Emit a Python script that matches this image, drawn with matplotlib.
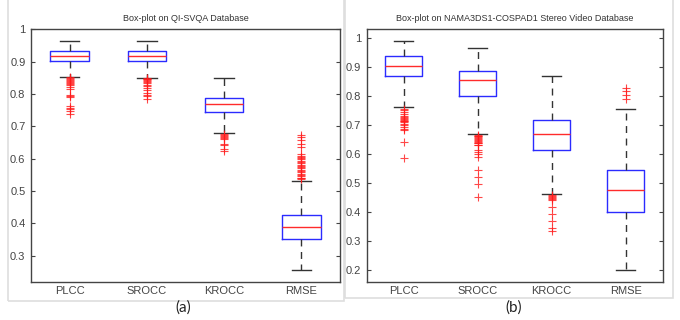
import matplotlib.pyplot as plt
from matplotlib.patches import Rectangle

plt.rcParams['font.family'] = ['Liberation Sans', 'DejaVu Sans']

labels = ['PLCC', 'SROCC', 'KROCC', 'RMSE']

# (a) QI-SVQA: q1, median, q3, lower whisker, upper whisker
a_q1 = [0.901, 0.902, 0.745, 0.353]
a_med = [0.918, 0.918, 0.768, 0.390]
a_q3 = [0.934, 0.934, 0.789, 0.425]
a_lo = [0.854, 0.851, 0.681, 0.255]
a_hi = [0.965, 0.965, 0.848, 0.531]
a_out = [
    [0.852, 0.849, 0.846, 0.843, 0.840, 0.837, 0.834, 0.831, 0.828, 0.822,
     0.817, 0.796, 0.793, 0.791, 0.762, 0.758, 0.753, 0.749, 0.739],
    [0.849, 0.847, 0.845, 0.842, 0.840, 0.837, 0.835, 0.829, 0.824, 0.818,
     0.811, 0.803, 0.797, 0.793, 0.786],
    [0.676, 0.674, 0.671, 0.668, 0.665, 0.662, 0.646, 0.641, 0.630, 0.623],
    [0.536, 0.539, 0.542, 0.546, 0.550, 0.554, 0.558, 0.562, 0.566, 0.570,
     0.574, 0.578, 0.582, 0.586, 0.590, 0.594, 0.598, 0.602, 0.606, 0.610,
     0.615, 0.636, 0.646, 0.659, 0.667, 0.672],
]

# (b) NAMA3DS1-COSPAD1
b_q1 = [0.867, 0.799, 0.612, 0.399]
b_med = [0.903, 0.853, 0.670, 0.476]
b_q3 = [0.936, 0.887, 0.718, 0.543]
b_lo = [0.763, 0.668, 0.461, 0.200]
b_hi = [0.990, 0.965, 0.869, 0.755]
b_out = [
    [0.756, 0.750, 0.745, 0.739, 0.730, 0.727, 0.724, 0.721, 0.718, 0.715,
     0.712, 0.710, 0.704, 0.698, 0.692, 0.686, 0.681, 0.641, 0.587],
    [0.666, 0.663, 0.660, 0.657, 0.654, 0.651, 0.648, 0.645, 0.642, 0.639,
     0.636, 0.632, 0.629, 0.612, 0.605, 0.598, 0.589, 0.545, 0.520, 0.497,
     0.451],
    [0.457, 0.454, 0.451, 0.448, 0.445, 0.442, 0.416, 0.393, 0.368, 0.345,
     0.334],
    [0.826, 0.818, 0.804, 0.790],
]


def stats(q1, med, q3, lo, hi, out):
    return [dict(q1=q1[i], med=med[i], q3=q3[i], whislo=lo[i], whishi=hi[i],
                 fliers=out[i], label=labels[i]) for i in range(len(labels))]


def draw(ax, st, title, ylim, yticks):
    ax.bxp(st, widths=0.5,
           boxprops=dict(color='#2b2bff', linewidth=1.0),
           medianprops=dict(color='#ff2b2b', linewidth=1.0),
           whiskerprops=dict(color='#333333', linewidth=1.0, linestyle=(0, (5, 4))),
           capprops=dict(color='#333333', linewidth=1.0),
           capwidths=0.25,
           flierprops=dict(marker='+', markeredgecolor='#ff1a1a', markersize=5.5,
                           markeredgewidth=0.8, alpha=0.8, linestyle='none'))
    ax.set_xlim(0.5, 4.5)
    ax.set_ylim(*ylim)
    ax.set_yticks(yticks)
    ax.set_yticklabels([f'{t:g}' for t in yticks])
    ax.set_title(title, fontsize=6.5, color='#333333', pad=6)
    ax.tick_params(axis='y', direction='in', right=True, length=3,
                   labelsize=8, colors='#444444', pad=4, width=0.8)
    ax.tick_params(axis='x', length=0, labelsize=8, colors='#444444', pad=3)
    for s in ax.spines.values():
        s.set_color('#444444')
        s.set_linewidth(1.0)


fig = plt.figure(figsize=(6.8, 3.2), dpi=100)

# screenshot frames
fig.patches.append(Rectangle((8 / 680, 19 / 320), 336 / 680, 310 / 320,
                             transform=fig.transFigure, fill=False,
                             edgecolor='#dedede', linewidth=1.2))
fig.patches.append(Rectangle((345 / 680, 22 / 320), 328 / 680, 310 / 320,
                             transform=fig.transFigure, fill=False,
                             edgecolor='#dedede', linewidth=1.2))

ax1 = fig.add_axes([31 / 680, 38.3 / 320, 309 / 680, 252.4 / 320])
draw(ax1, stats(a_q1, a_med, a_q3, a_lo, a_hi, a_out),
     'Box-plot on QI-SVQA Database', (0.22, 1.0),
     [0.3, 0.4, 0.5, 0.6, 0.7, 0.8, 0.9, 1.0])

ax2 = fig.add_axes([366.7 / 680, 38.3 / 320, 296 / 680, 252.4 / 320])
draw(ax2, stats(b_q1, b_med, b_q3, b_lo, b_hi, b_out),
     'Box-plot on NAMA3DS1-COSPAD1 Stereo Video Database', (0.16, 1.029),
     [0.2, 0.3, 0.4, 0.5, 0.6, 0.7, 0.8, 0.9, 1.0])

fig.text(183 / 680, 1 - 308 / 320, '(a)', ha='center', va='center',
         fontsize=11, color='#222222', family=['Lato', 'DejaVu Sans'])
fig.text(514 / 680, 1 - 308 / 320, '(b)', ha='center', va='center',
         fontsize=11, color='#222222', family=['Lato', 'DejaVu Sans'])

fig.savefig('out.png', dpi=100)
